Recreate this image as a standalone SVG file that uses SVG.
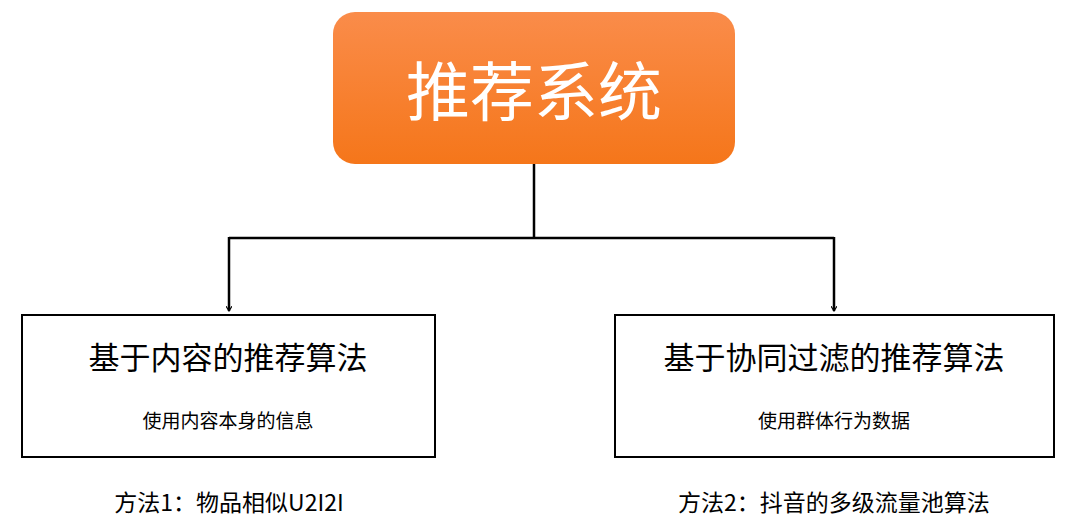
<svg xmlns="http://www.w3.org/2000/svg" width="1072" height="532" viewBox="0 0 1072 532">
<style>
text{font-family:"Noto Sans CJK SC","Liberation Sans",sans-serif;fill:#000;text-anchor:middle}
.box{fill:#fff;stroke:#000;stroke-width:2}
.t{font-size:31px}
.s{font-size:19px}
.m{font-size:23px}
.c{fill:none;stroke:#000;stroke-width:2.5}
</style>
<defs>
<linearGradient id="g" x1="0" y1="0" x2="0" y2="1">
<stop offset="0" stop-color="#fa8c4a"/>
<stop offset="1" stop-color="#f5761a"/>
</linearGradient>
<marker id="a" viewBox="0 0 10 10" refX="9" refY="5" markerWidth="6" markerHeight="6" orient="auto" markerUnits="userSpaceOnUse">
<path d="M1,0 L9,5 L1,10" fill="none" stroke="#000" stroke-width="2"/>
</marker>
</defs>
<rect width="1072" height="532" fill="#fff"/>
<g id="connectors">
<path class="c" d="M534,164 V238 M229,238 H834"/>
<path class="c" d="M229,237 V311" marker-end="url(#a)"/>
<path class="c" d="M834,237 V311" marker-end="url(#a)"/>
</g>
<g id="root">
<rect x="333" y="12" width="402" height="152" rx="22" fill="url(#g)"/>
<text x="534" y="115" style="font-size:64px;fill:#fff">推荐系统</text>
</g>
<g id="content">
<rect class="box" x="22" y="315" width="413" height="142"/>
<text class="t" x="228" y="369">基于内容的推荐算法</text>
<text class="s" x="228" y="428">使用内容本身的信息</text>
</g>
<g id="collab">
<rect class="box" x="615" y="315" width="439" height="142"/>
<text class="t" x="834" y="369">基于协同过滤的推荐算法</text>
<text class="s" x="834" y="428">使用群体行为数据</text>
</g>
<g id="labels">
<text class="m" x="229" y="511">方法1：物品相似U2I2I</text>
<text class="m" x="834" y="511">方法2：抖音的多级流量池算法</text>
</g>
</svg>
